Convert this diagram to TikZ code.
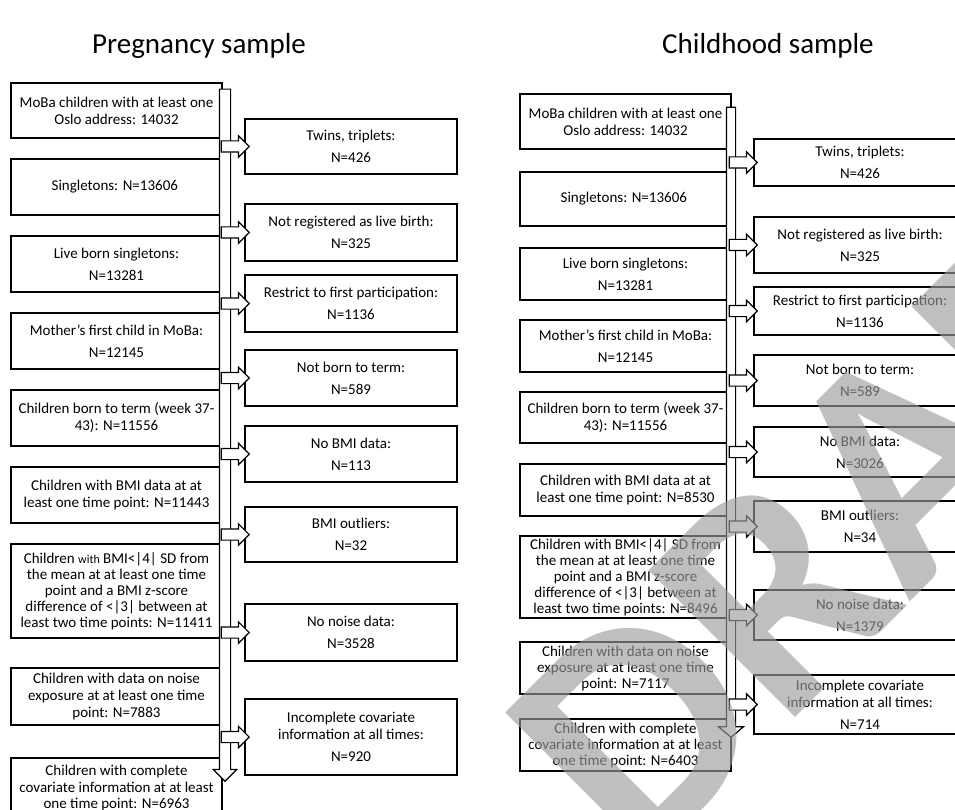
\documentclass[tikz,border=0pt]{standalone}
\usepackage{fontspec}
\setmainfont{Carlito}
\usepackage{tikz}
\usetikzlibrary{positioning}
\usetikzlibrary{shapes.arrows}
\tikzset {
        incnode/.style={align=center, inner sep=1pt, outer sep=0pt, rectangle, draw, line width=1.6pt, fill=white, minimum width=211pt, font=\fontsize{15}{17}\selectfont},
        excnode/.style={incnode, minimum width=212pt},
        sidearrow/.style={single arrow, draw, line width=1.2pt, fill=white, inner sep=0pt, inner ysep=5pt, single arrow head extend=5pt, minimum height=28pt, anchor=tip},
        mainarrow/.style={single arrow, draw, line width=1.2pt, fill=white, inner sep=0pt, rotate=-90, anchor=tip},
        titlenode/.style={font=\fontsize{29}{34}\selectfont},
        wmark/.style={rotate=45, text=black!39, text opacity=0.64, font=\fontsize{320}{320}\selectfont\bfseries}
}

\begin{document}
\begin{tikzpicture}[x=1pt, y=-1pt]
        \useasboundingbox (0,0) rectangle (955,810);
        \node[titlenode] (PregTitle) at (199,46) {Pregnancy sample};
        \node[titlenode] (ChildTitle) at (768,46) {Childhood sample};

        % pregnancy sample
        \node[incnode, minimum height=55pt, anchor=north west] (PregMoba) at (11,83) {
            MoBa children with at least one\\Oslo address: 14032
        };
        \node[incnode, minimum height=56pt, below=21pt of PregMoba] (PregSingletons) {
            Singletons: N=13606
        };
        \node[incnode, minimum height=56pt, below=21pt of PregSingletons] (PregLiveBorn) {
            Live born singletons:\\[5pt]N=13281
        };
        \node[incnode, minimum height=56pt, below=21pt of PregLiveBorn] (PregFirstChild) {
            Mother's first child in MoBa:\\[5pt]N=12145
        };
        \node[incnode, minimum height=56pt, below=21pt of PregFirstChild] (PregTerm) {
            Children born to term (week 37-\\43): N=11556
        };
        \node[incnode, minimum height=56pt, below=21pt of PregTerm] (PregBmi) {
            Children with BMI data at at\\least one time point: N=11443
        };
        \node[incnode, minimum height=94pt, font=\fontsize{15}{16}\selectfont, below=21pt of PregBmi] (PregNoOutliers) {
            Children {\fontsize{12}{16}\selectfont with} BMI<|4| SD from\\the mean at at least one time\\point and a BMI z-score\\difference of <|3| between at\\least two time points: N=11411
        };
        \node[incnode, minimum height=57pt, below=30pt of PregNoOutliers] (PregNoise) {
            Children with data on noise\\exposure at at least one time\\point: N=7883
        };
        \node[incnode, minimum height=60pt, font=\fontsize{15}{16.5}\selectfont, below=33pt of PregNoise] (PregFinal) {
            Children with complete\\covariate information at at least\\one time point: N=6963
        };

        \node[excnode, minimum height=55pt, anchor=north west] (PregTwins) at (245,119) {
            Twins, triplets:\\[5pt]N=426
        };
        \node[excnode, minimum height=57pt, below=30pt of PregTwins] (PregNotLive) {
            Not registered as live birth:\\[5pt]N=325
        };
        \node[excnode, minimum height=57pt, below=14pt of PregNotLive] (PregRestrict) {
            Restrict to first participation:\\[5pt]N=1136
        };
        \node[excnode, minimum height=56pt, below=18pt of PregRestrict] (PregNotTerm) {
            Not born to term:\\[5pt]N=589
        };
        \node[excnode, minimum height=56pt, below=20pt of PregNotTerm] (PregNoBmi) {
            No BMI data:\\[5pt]N=113
        };
        \node[excnode, minimum height=55pt, below=25pt of PregNoBmi] (PregOutliers) {
            BMI outliers:\\[5pt]N=32
        };
        \node[excnode, minimum height=57pt, below=42pt of PregOutliers] (PregNoNoise) {
            No noise data:\\[5pt]N=3528
        };
        \node[excnode, minimum height=76pt, below=38pt of PregNoNoise] (PregIncomplete) {
            Incomplete covariate\\information at all times:\\[5pt]N=920
        };

        \coordinate (PregEnd) at (225,782);
        \node[mainarrow, minimum height=692pt, inner ysep=5pt, single arrow head extend=6pt] (PregShaft) at (PregEnd) {};
        \foreach \ex in {PregTwins, PregNotLive, PregRestrict, PregNotTerm, PregNoBmi, PregOutliers, PregNoNoise, PregIncomplete}
            \node[sidearrow] (\ex Arrow) at ([xshift=5pt]\ex.west) {};

        % childhood sample
        \node[incnode, minimum height=55pt, anchor=north west] (ChildMoba) at (520,94) {
            MoBa children with at least one\\Oslo address: 14032
        };
        \node[incnode, minimum height=54pt, below=23pt of ChildMoba] (ChildSingletons) {
            Singletons: N=13606
        };
        \node[incnode, minimum height=52pt, below=22pt of ChildSingletons] (ChildLiveBorn) {
            Live born singletons:\\[5pt]N=13281
        };
        \node[incnode, minimum height=52pt, below=20pt of ChildLiveBorn] (ChildFirstChild) {
            Mother's first child in MoBa:\\[5pt]N=12145
        };
        \node[incnode, minimum height=51pt, below=20pt of ChildFirstChild] (ChildTerm) {
            Children born to term (week 37-\\43): N=11556
        };
        \node[incnode, minimum height=52pt, below=21pt of ChildTerm] (ChildBmi) {
            Children with BMI data at at\\least one time point: N=8530
        };
        \node[incnode, minimum height=82pt, inner sep=0pt, font=\fontsize{15}{16}\selectfont, below=20pt of ChildBmi] (ChildNoOutliers) {
            Children with BMI<|4| SD from\\the mean at at least one time\\point and a BMI z-score\\difference of <|3| between at\\least two time points: N=8496
        };
        \node[incnode, minimum height=52pt, inner sep=0pt, font=\fontsize{15}{16}\selectfont, below=24pt of ChildNoOutliers] (ChildNoise) {
            Children with data on noise\\exposure at at least one time\\point: N=7117
        };
        \node[incnode, minimum height=52pt, inner sep=0pt, font=\fontsize{15}{16}\selectfont, below=25pt of ChildNoise] (ChildFinal) {
            Children with complete\\covariate information at at least\\one time point: N=6403
        };

        \node[excnode, minimum height=47pt, anchor=north west] (ChildTwins) at (754,139) {
            Twins, triplets:\\[5pt]N=426
        };
        \node[excnode, minimum height=56pt, below=31pt of ChildTwins] (ChildNotLive) {
            Not registered as live birth:\\[5pt]N=325
        };
        \node[excnode, minimum height=48pt, below=14pt of ChildNotLive] (ChildRestrict) {
            Restrict to first participation:\\[5pt]N=1136
        };
        \node[excnode, minimum height=51pt, below=20pt of ChildRestrict] (ChildNotTerm) {
            Not born to term:\\[5pt]N=589
        };
        \node[excnode, minimum height=50pt, below=21pt of ChildNotTerm] (ChildNoBmi) {
            No BMI data:\\[5pt]N=3026
        };
        \node[excnode, minimum height=51pt, below=24pt of ChildNoBmi] (ChildOutliers) {
            BMI outliers:\\[5pt]N=34
        };
        \node[excnode, minimum height=50pt, below=38pt of ChildOutliers] (ChildNoNoise) {
            No noise data:\\[5pt]N=1379
        };
        \node[excnode, minimum height=59pt, below=35pt of ChildNoNoise] (ChildIncomplete) {
            Incomplete covariate\\information at all times:\\[5pt]N=714
        };

        \coordinate (ChildEnd) at (731,738);
        \node[mainarrow, minimum height=630pt, inner ysep=4pt, single arrow head extend=8pt, single arrow tip angle=100] (ChildShaft) at (ChildEnd) {};
        \foreach \ex in {ChildTwins, ChildNotLive, ChildRestrict, ChildNotTerm, ChildNoBmi, ChildOutliers, ChildNoNoise, ChildIncomplete}
            \node[sidearrow] (\ex Arrow) at ([xshift=4pt]\ex.west) {};

        % watermark
        \node[wmark] (Draft) at (878,488) {DRAFT};
\end{tikzpicture}
\end{document}
